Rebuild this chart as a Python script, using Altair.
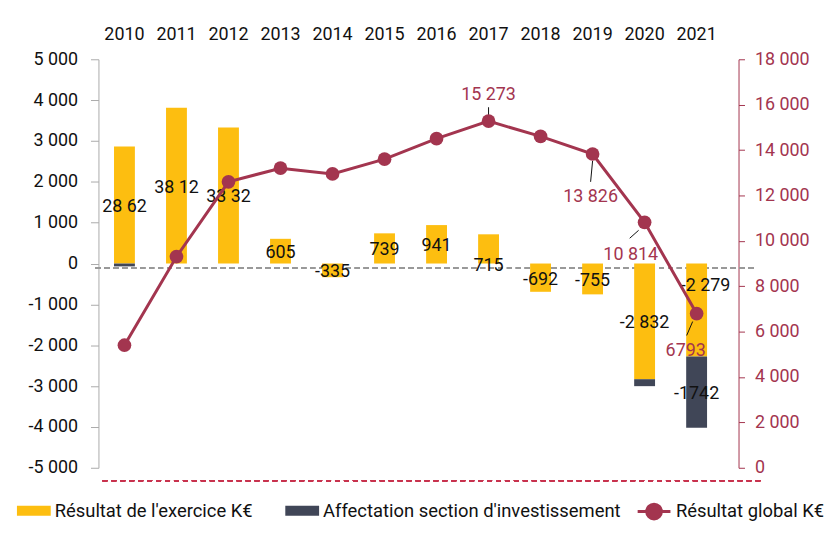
import altair as alt
import pandas as pd

# ---------------- data ----------------
years = [str(y) for y in range(2010, 2022)]
resultat_exercice = [2862, 3812, 3332, 605, -335, 739, 941, 715, -692, -755, -2832, -2279]
affectation = [-70, 0, 0, 0, 0, 0, 0, 0, 0, 0, -170, -1742]
resultat_global = [5400, 9300, 12600, 13200, 12950, 13600, 14500, 15273, 14600, 13826, 10814, 6793]

exercice_labels = ["28 62", "38 12", "33 32", "605", "-335", "739", "941", "715",
                   "-692", "-755", "-2 832", "-2 279"]
affectation_labels = {"2021": "-1742"}
global_labels = {"2017": "15 273", "2019": "13 826", "2020": "10 814", "2021": "6793"}

s_ex = "Résultat de l'exercice K€"
s_af = "Affectation section d'investissement"
s_gl = "Résultat global K€"

# ---------------- styles ----------------
YELLOW = "#FDBE10"
DARK = "#404657"
MAROON = "#A3354F"
FONT = "Roboto"
FS = 18
W, H = 628, 411

ex_label_offsets = {"2017": (0, 17), "2021": (9, -24)}
gl_label_offsets = {"2017": (0, -26), "2019": (-2, 43), "2020": (-14, 33), "2021": (-11, 38)}
leader_offsets = {  # (x1, y1, x2, y2) relative to the point
    "2017": (0, -14, 0, -4),
    "2019": (0, 7, -2, 28),
    "2020": (-6, 8, -15, 16),
    "2021": (-4, 8, -10, 22),
}

# ---------------- tables ----------------
rows = []
lab_rows = []
for i, yr in enumerate(years):
    e = resultat_exercice[i]
    a = affectation[i]
    rows.append({"year": yr, "series": s_ex, "y0": 0, "y1": e})
    lab_rows.append({"year": yr, "mid": e / 2, "label": exercice_labels[i], "kind": "ex"})
    if a != 0:
        start = e if (e < 0) == (a < 0) else 0
        rows.append({"year": yr, "series": s_af, "y0": start, "y1": start + a})
        if yr in affectation_labels:
            lab_rows.append({"year": yr, "mid": start + a / 2, "label": affectation_labels[yr], "kind": "af"})
bar_df = pd.DataFrame(rows)
bar_lab_df = pd.DataFrame(lab_rows)

line_df = pd.DataFrame({"year": years, "global": resultat_global, "series": s_gl})
line_df["label"] = [global_labels.get(y, "") for y in years]

fmt = "replace(replace(format(datum.value, ','), ',', ' '), '\u2212', '-')"

X_AXIS = alt.Axis(orient="top", title=None, labelAngle=0, domain=False, ticks=False,
                  labelFontSize=FS, labelColor="#111111", labelPadding=16, labelFont=FONT)
X_SCALE = alt.Scale(domain=years, paddingInner=0, paddingOuter=0)
LEFT_AXIS = alt.Axis(orient="left", title=None, values=list(range(-5000, 5001, 1000)),
                     labelExpr=fmt, grid=False, domainColor="#AAAAAA", tickColor="#AAAAAA",
                     tickSize=8, labelPadding=13, labelFontSize=FS, labelColor="#111111",
                     labelFont=FONT)
RIGHT_AXIS = alt.Axis(orient="right", title=None, values=list(range(0, 18001, 2000)),
                      labelExpr=fmt, grid=False, domainColor=MAROON, tickColor=MAROON,
                      tickSize=6, labelPadding=10, labelFontSize=FS, labelColor=MAROON,
                      offset=16, labelFont=FONT)
LEFT_SCALE = alt.Scale(domain=[-5000, 5000], nice=False, zero=False)
RIGHT_SCALE = alt.Scale(domain=[0, 18000], nice=False)


def xe():
    return alt.X("year:N", sort=years, scale=X_SCALE, axis=X_AXIS)


def yl(field):
    return alt.Y(field, type="quantitative", scale=LEFT_SCALE, axis=LEFT_AXIS)


def yr_(field):
    return alt.Y(field, type="quantitative", scale=RIGHT_SCALE, axis=RIGHT_AXIS)


bars = alt.Chart(bar_df).mark_bar(size=21).encode(
    x=xe(),
    y=yl("y0"),
    y2="y1:Q",
    fill=alt.Fill("series:N", scale=alt.Scale(domain=[s_ex, s_af], range=[YELLOW, DARK]),
                  legend=alt.Legend(orient="none", legendX=-82, legendY=437, direction="horizontal",
                                    title=None, symbolType="M-1,-0.3H1V0.3H-1Z", symbolSize=1156,
                                    symbolStrokeWidth=0, labelFontSize=18.5, labelFont=FONT,
                                    labelColor="#111111", columnPadding=32, labelOffset=4,
                                    labelLimit=400)),
)

zero_rule = alt.Chart(bar_df).mark_rule(color="#999999", strokeDash=[5, 4], strokeWidth=1.3).encode(
    x=alt.value(-3), x2=alt.value(661), y=alt.value(210))
bottom_rule = alt.Chart(bar_df).mark_rule(color="#C8324E", strokeDash=[5, 4], strokeWidth=1.3).encode(
    x=alt.value(4), x2=alt.value(669), y=alt.value(424))

bar_text_layers = []
normal = [y for y in years if y not in ex_label_offsets]
bar_text_layers.append(
    alt.Chart(bar_lab_df).transform_filter(
        alt.FieldOneOfPredicate(field="year", oneOf=normal) | (alt.datum.kind == "af")
    ).mark_text(fontSize=FS, color="#111111", dy=2, font=FONT).encode(
        x=xe(), y=yl("mid"), text="label:N")
)
for yr, (dx, dy) in ex_label_offsets.items():
    bar_text_layers.append(
        alt.Chart(bar_lab_df).transform_filter(
            (alt.datum.year == yr) & (alt.datum.kind == "ex")
        ).mark_text(fontSize=FS, color="#111111", dx=dx, dy=dy, font=FONT).encode(
            x=xe(), y=yl("mid"), text="label:N")
    )

bar_part = alt.layer(zero_rule, bars, bottom_rule, *bar_text_layers)

line = alt.Chart(line_df).mark_line(strokeWidth=3).encode(
    x=xe(),
    y=yr_("global"),
    stroke=alt.Stroke("series:N", scale=alt.Scale(domain=[s_gl], range=[MAROON]),
                      legend=alt.Legend(orient="none", legendX=541, legendY=437, title=None,
                                        symbolType="M-1,0H-0.45M0.45,0H1M0.45,0A0.45,0.45,0,1,1,-0.45,0A0.45,0.45,0,1,1,0.45,0Z",
                                        symbolSize=1089, symbolStrokeWidth=3,
                                        symbolFillColor=MAROON, labelFontSize=18.5, labelFont=FONT,
                                        labelColor="#111111", labelOffset=4, labelLimit=300)),
)

leaders = []
for yr, (x1, y1, x2, y2) in leader_offsets.items():
    leaders.append(
        alt.Chart(line_df).transform_filter(alt.datum.year == yr).mark_rule(
            color="#111111", strokeWidth=1, xOffset=x1, yOffset=y1, x2Offset=x2, y2Offset=y2
        ).encode(x=xe(), x2="year:N", y=yr_("global"), y2="global:Q")
    )

points = alt.Chart(line_df).mark_circle(size=190, color=MAROON, opacity=1).encode(
    x=xe(), y=yr_("global"))

gl_texts = []
for yr, (dx, dy) in gl_label_offsets.items():
    gl_texts.append(
        alt.Chart(line_df).transform_filter(alt.datum.year == yr).mark_text(
            fontSize=FS, color=MAROON, dx=dx, dy=dy, font=FONT
        ).encode(x=xe(), y=yr_("global"), text="label:N")
    )

line_part = alt.layer(line, *leaders, points, *gl_texts)

chart = alt.layer(bar_part, line_part).resolve_scale(
    y="independent", fill="independent", stroke="independent"
).properties(
    width=W, height=H, padding={"left": 9, "top": 16, "right": 0, "bottom": 0}
).configure(font=FONT).configure_view(stroke=None)

chart.save("out.html", embed_options={"renderer": "svg", "actions": False})
